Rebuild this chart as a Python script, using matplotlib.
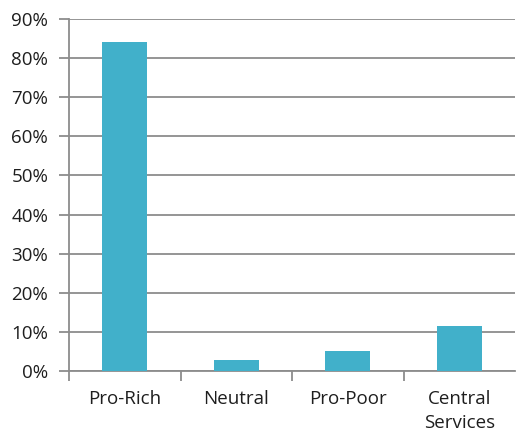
import matplotlib.pyplot as plt
from matplotlib.ticker import FixedLocator, PercentFormatter

categories = ['Pro-Rich', 'Neutral', 'Pro-Poor', 'Central\nServices']
shares = [84.1, 2.9, 5.0, 11.6]
yticks = [0, 10, 20, 30, 40, 50, 60, 70, 80, 90]

bar_color = '#41B0CA'
line_color = '#8C8C8C'
text_color = '#1E1E1E'

plt.rcParams['font.family'] = ['Open Sans', 'DejaVu Sans']

fig = plt.figure(figsize=(5.16, 4.36), dpi=100)
ax = fig.add_axes([69 / 516, 1 - 371 / 436, 446 / 516, (371 - 19) / 436])

x = list(range(len(categories)))
ax.bar(x, shares, width=0.4, color=bar_color, zorder=3)

ax.set_xlim(-0.5, len(categories) - 0.5)
ax.set_ylim(0, 90)
ax.set_yticks(yticks)
ax.yaxis.set_major_formatter(PercentFormatter(decimals=0))
ax.grid(axis='y', color=line_color, linewidth=1.3, zorder=0)

ax.set_xticks(x)
ax.set_xticklabels(categories, linespacing=1.4)
ax.xaxis.set_minor_locator(FixedLocator([i - 0.5 for i in range(len(categories))]))
ax.tick_params(axis='x', which='major', length=0, pad=14)
ax.tick_params(axis='x', which='minor', length=7, width=1.3, color=line_color)
ax.tick_params(axis='y', length=7, width=1.3, color=line_color, pad=8)
ax.tick_params(labelsize=13.5, labelcolor=text_color)

for side in ['top', 'right']:
    ax.spines[side].set_visible(False)
for side in ['left', 'bottom']:
    ax.spines[side].set_color(line_color)
    ax.spines[side].set_linewidth(1.3)

fig.savefig('out.png', dpi=100)
